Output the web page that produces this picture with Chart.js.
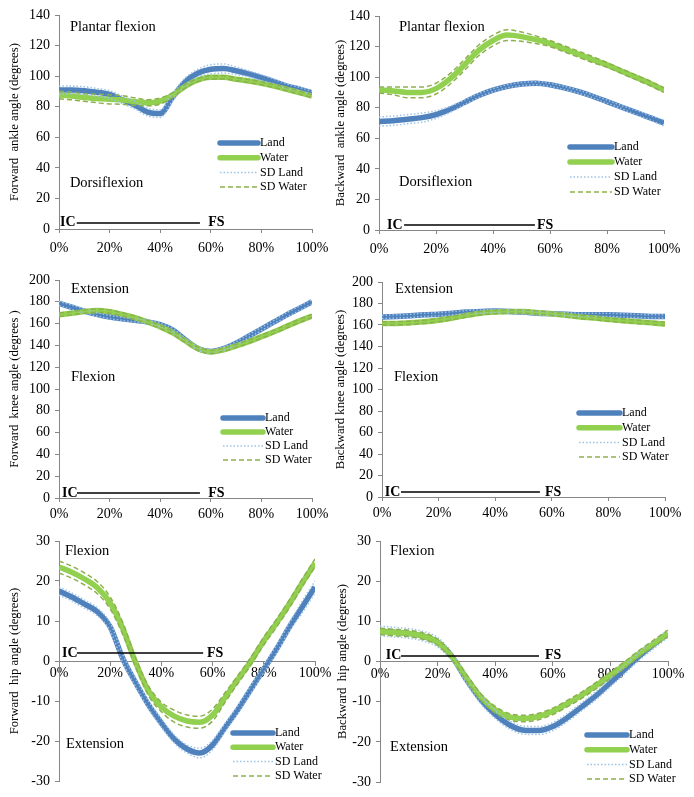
<!DOCTYPE html>
<html>
<head>
<meta charset="utf-8">
<script src="https://cdn.jsdelivr.net/npm/chart.js@4.4.0/dist/chart.umd.min.js"></script>
<style>
  body { margin: 0; background: #fff; width: 694px; height: 797px; position: relative; overflow: hidden; }
  canvas { position: absolute; }
</style>
</head>
<body>
<canvas id="fwdAnkle" width="340" height="262" style="left:0;top:0"></canvas>
<canvas id="bwdAnkle" width="364" height="262" style="left:330px;top:0"></canvas>
<canvas id="fwdKnee" width="340" height="263" style="left:0;top:262px"></canvas>
<canvas id="bwdKnee" width="364" height="263" style="left:330px;top:262px"></canvas>
<canvas id="fwdHip" width="340" height="272" style="left:0;top:525px"></canvas>
<canvas id="bwdHip" width="364" height="272" style="left:330px;top:525px"></canvas>
<script>
// % of stride
const pct = [0, 5, 10, 15, 20, 25, 30, 35, 40, 45, 50, 55, 60, 65, 70, 75, 80, 85, 90, 95, 100];

// Forward ankle
const landFA  = [91, 91, 90.5, 89.5, 88, 84.5, 81, 76.5, 75.5, 86.5, 96.5, 102, 104.5, 105, 103.5, 101.5, 99, 96.5, 93.5, 91.5, 89];
const sdLandFA = [2.5, 2.5, 2.5, 2.5, 2.5, 2.5, 2.5, 2.5, 2.5, 2.5, 2.5, 2.5, 3, 3, 2.5, 2, 2, 1.5, 1.5, 1.2, 1];
const waterFA = [87.7, 87, 86, 85.4, 84.8, 84.4, 83.3, 82.6, 83.7, 87.7, 93.5, 97.5, 99.2, 99.2, 98, 96.8, 95.3, 93.5, 91.4, 89.2, 87];
const sdWaterFA = [2.5, 2.5, 2.5, 2.8, 3, 2.8, 2.5, 2, 2, 1.5, 1.2, 1, 1, 1, 1, 1, 1, 1, 1, 1, 1];

// Backward ankle
const landBA  = [71, 71.5, 72.5, 73.5, 75.5, 79, 83.5, 88, 91.5, 94, 95.5, 96, 95, 93, 90.5, 87.5, 84, 80.5, 77, 73.5, 70];
const sdLandBA = [3, 3, 3, 3, 2.5, 2, 1.5, 1.2, 1, 1, 1, 1, 1, 1, 1, 1, 1, 1, 1.5, 1.5, 2];
const waterBA = [91.6, 91, 90, 90, 92.5, 99, 108, 117.5, 124, 127.5, 126.5, 124.5, 122, 118.5, 115, 111.5, 108, 104, 100, 96, 91.5];
const sdWaterBA = [2, 2.5, 3.5, 3.5, 3.5, 3.5, 3.5, 3.5, 3.5, 3.5, 3, 2.5, 2, 2, 2, 2, 1.5, 1.5, 1.5, 1.5, 1.5];

// Forward knee
const landFK  = [178.5, 175, 171.5, 168.5, 166, 164.5, 163, 161.5, 159, 154, 145, 137, 134.5, 137, 142, 148.5, 155, 161.5, 168, 174, 180];
const sdLandFK = [2, 2, 2, 1.5, 1.5, 1.5, 1.5, 1.5, 1.5, 1.5, 1.5, 1.5, 1.5, 1.5, 1.5, 1.5, 1.5, 1.5, 2, 2, 2];
const waterFK = [168, 169.5, 171, 172, 171, 168.5, 165.5, 161.5, 157, 151.5, 144, 137, 134, 136, 139.5, 143.5, 148, 152.5, 157.5, 162.5, 167];
const sdWaterFK = [1.5, 1.5, 1.5, 1.5, 1.5, 1.5, 1.5, 1.5, 1.5, 1.5, 1.5, 1.5, 1.5, 1.5, 1.5, 1.5, 1.5, 1.5, 1.5, 1.5, 1.5];

// Backward knee
const landBK  = [167.5, 168, 168.5, 169.5, 170, 171, 172, 172.5, 173, 172.5, 172, 171, 170.5, 170, 169.5, 169.5, 169.5, 169, 168.5, 168, 168];
const sdLandBK = [1.5, 1.5, 1.5, 1.5, 1.5, 1.5, 1.5, 1.5, 1.5, 1.5, 1.5, 1.5, 1.5, 1.5, 1.5, 1.5, 1.5, 1.5, 1.5, 1.5, 1.5];
const waterBK = [161.5, 161.5, 162, 163, 164.5, 166.5, 169, 171, 172, 172.5, 172.5, 171.5, 170.5, 169, 167.5, 166.5, 165, 164, 163, 162, 161];
const sdWaterBK = [1.5, 1.5, 1.5, 1.5, 1.5, 1.5, 1.5, 1.5, 1.5, 1.5, 1.5, 1.5, 1.5, 1.5, 1.5, 1.5, 1.5, 1.5, 1.5, 1.5, 1.5];

// Forward hip
const landFH  = [17.5, 16, 14.2, 12.3, 8.5, 0.5, -5.5, -11, -15.5, -19.5, -22, -23, -21, -16.5, -12, -7, -2, 3, 8.5, 13.5, 18.5];
const sdLandFH = [1, 1, 1, 1, 1, 1, 1, 1, 1, 1, 1, 1.2, 1.2, 1, 1, 1, 1, 1, 1, 1.5, 1.5];
const waterFH = [23.5, 22.2, 20.5, 18.3, 14.5, 8, -0.5, -7.5, -11.5, -13.8, -15, -15.3, -13.5, -9, -4.5, 0, 5, 9.5, 14.3, 19.5, 24.5];
const sdWaterFH = [1.5, 1.5, 1.5, 1.5, 1.5, 1.5, 1.2, 1.2, 1.2, 1.5, 1.5, 1.5, 1.5, 1.2, 1, 1, 1, 1, 1, 1, 1];

// Backward hip
const landBH  = [7.6, 7.3, 7, 6.3, 4.8, 1.2, -4.5, -9.5, -13.2, -15.8, -17.1, -17.2, -16.2, -14, -11.3, -8.5, -5.3, -2, 1.3, 4.2, 7];
const sdLandBH = [1.2, 1.2, 1.2, 1.2, 1.2, 1, 1, 1, 1, 1, 1, 1, 1, 1, 1, 1, 1, 1, 1, 1, 1];
const waterBH = [7.5, 7.2, 7, 6.3, 4.8, 1.2, -4, -8.8, -12, -13.8, -14.2, -13.7, -12.4, -10.5, -8.4, -6, -3.4, -0.8, 2, 4.5, 7];
const sdWaterBH = [0.8, 0.8, 0.8, 0.8, 0.8, 0.8, 0.8, 0.8, 0.8, 0.8, 0.8, 0.8, 0.8, 0.8, 0.8, 0.8, 0.8, 0.8, 0.8, 0.8, 0.8];

const LAND = '#4F81BD';
const WATER = '#92D050';
const SD_LAND = '#9DC3E6';
const SD_WATER = '#8DB04E';
const AXIS = '#868686';
const SERIF = "'Liberation Serif', 'Times New Roman', serif";

function pts(vals) {
    return vals.map((v, i) => ({ x: pct[i], y: v }));
}
function band(vals, sd, sign) {
    return vals.map((v, i) => ({ x: pct[i], y: v + sign * sd[i] }));
}

// Legend drawn inside the plot (only 4 entries for 6 datasets)
const innerLegend = {
    id: 'innerLegend',
    afterDraw(chart, args, opts) {
        const ctx = chart.ctx;
        const seen = {};
        const items = [];
        chart.data.datasets.forEach(ds => {
            if (!seen[ds.label]) { seen[ds.label] = true; items.push(ds); }
        });
        items.sort((a, b) => a.legendIndex - b.legendIndex);
        ctx.save();
        ctx.font = '12px ' + SERIF;
        ctx.textBaseline = 'middle';
        ctx.fillStyle = '#000';
        items.forEach((ds, i) => {
            const y = opts.y + i * opts.gap;
            ctx.beginPath();
            ctx.setLineDash(ds.borderDash || []);
            ctx.lineWidth = ds.borderWidth;
            ctx.strokeStyle = ds.borderColor;
            ctx.lineCap = ds.borderWidth > 3 ? 'round' : 'butt';
            ctx.moveTo(opts.x, y);
            ctx.lineTo(opts.x + opts.len, y);
            ctx.stroke();
            ctx.fillText(ds.label, opts.x + opts.len + 2, y);
        });
        ctx.restore();
    }
};

// Text notes and IC-FS bar, placed in data units
const notes = {
    id: 'notes',
    afterDraw(chart, args, opts) {
        const ctx = chart.ctx;
        const xs = chart.scales.x, ys = chart.scales.y;
        ctx.save();
        ctx.fillStyle = '#000';
        ctx.textBaseline = 'middle';
        ctx.textAlign = 'left';
        ctx.font = '14.5px ' + SERIF;
        opts.texts.forEach(t => {
            ctx.fillText(t.text, xs.getPixelForValue(t.x), ys.getPixelForValue(t.y));
        });
        const b = opts.bar;
        const by = ys.getPixelForValue(b.y);
        ctx.font = 'bold 14px ' + SERIF;
        ctx.fillText('IC', xs.getPixelForValue(b.ic), by);
        ctx.fillText('FS', xs.getPixelForValue(b.fs), by);
        ctx.beginPath();
        ctx.lineWidth = 1.5;
        ctx.strokeStyle = '#000';
        ctx.moveTo(xs.getPixelForValue(b.from), by);
        ctx.lineTo(xs.getPixelForValue(b.to), by);
        ctx.stroke();
        ctx.restore();
    }
};

function makePanel(id, cfg) {
    const datasets = [
        { label: 'SD Water', legendIndex: 3, data: band(cfg.water, cfg.sdWater, 1), borderColor: SD_WATER, borderWidth: 1.5, borderDash: [5, 3] },
        { label: 'SD Water', legendIndex: 3, data: band(cfg.water, cfg.sdWater, -1), borderColor: SD_WATER, borderWidth: 1.5, borderDash: [5, 3] },
        { label: 'SD Land', legendIndex: 2, data: band(cfg.land, cfg.sdLand, 1), borderColor: SD_LAND, borderWidth: 1.5, borderDash: [1.5, 2] },
        { label: 'SD Land', legendIndex: 2, data: band(cfg.land, cfg.sdLand, -1), borderColor: SD_LAND, borderWidth: 1.5, borderDash: [1.5, 2] },
        { label: 'Water', legendIndex: 1, data: pts(cfg.water), borderColor: WATER, borderWidth: 5.5 },
        { label: 'Land', legendIndex: 0, data: pts(cfg.land), borderColor: LAND, borderWidth: 5.5 }
    ];
    datasets.forEach(ds => {
        ds.pointRadius = 0;
        ds.fill = false;
        ds.cubicInterpolationMode = 'monotone';
    });

    new Chart(document.getElementById(id).getContext('2d'), {
        type: 'line',
        data: { datasets: datasets },
        options: {
            responsive: false,
            animation: false,
            layout: { padding: { left: 0, top: cfg.padTop, right: cfg.padRight, bottom: cfg.padBottom || 0 } },
            plugins: {
                legend: { display: false },
                tooltip: { enabled: false },
                innerLegend: cfg.legend,
                notes: cfg.notes
            },
            scales: {
                x: {
                    type: 'linear',
                    position: cfg.xAtZero ? { y: 0 } : 'bottom',
                    min: 0,
                    max: 100,
                    ticks: {
                        stepSize: 20,
                        color: '#000',
                        padding: cfg.xPad,
                        maxRotation: 0,
                        font: { family: SERIF, size: 14 },
                        callback: v => v + '%'
                    },
                    grid: { drawOnChartArea: false, color: AXIS, tickLength: 4 },
                    border: { color: AXIS, width: 1 },
                    afterFit: s => { if (cfg.xHeight) s.height = cfg.xHeight; }
                },
                y: {
                    min: cfg.yMin,
                    max: cfg.yMax,
                    ticks: {
                        stepSize: cfg.yStep,
                        color: '#000',
                        padding: 5,
                        font: { family: SERIF, size: 14 }
                    },
                    grid: { drawOnChartArea: false, color: AXIS, tickLength: 4 },
                    border: { color: AXIS, width: 1 },
                    title: {
                        display: true,
                        text: cfg.yTitle,
                        color: '#000',
                        padding: { top: cfg.titlePad, bottom: 0 },
                        font: { family: SERIF, size: 12.7 }
                    },
                    afterFit: s => { s.width = cfg.yWidth; }
                }
            }
        },
        plugins: [innerLegend, notes]
    });
}

makePanel('fwdAnkle', {
    land: landFA, sdLand: sdLandFA, water: waterFA, sdWater: sdWaterFA,
    yMin: 0, yMax: 140, yStep: 20, yTitle: 'Forward  ankle angle (degrees)',
    yWidth: 59, titlePad: 7, padTop: 15, padRight: 28, xHeight: 33, xPad: 7,
    legend: { x: 220, y: 143, gap: 14.7, len: 38 },
    notes: {
        texts: [{ text: 'Plantar flexion', x: 4.3, y: 132 }, { text: 'Dorsiflexion', x: 4.3, y: 30 }],
        bar: { y: 4, ic: 0.4, from: 7, to: 55.7, fs: 59 }
    }
});

makePanel('bwdAnkle', {
    land: landBA, sdLand: sdLandBA, water: waterBA, sdWater: sdWaterBA,
    yMin: 0, yMax: 140, yStep: 20, yTitle: 'Backward  ankle angle (degrees)',
    yWidth: 49, titlePad: 3, padTop: 16, padRight: 30, xHeight: 32, xPad: 7,
    legend: { x: 240, y: 147, gap: 15, len: 42 },
    notes: {
        texts: [{ text: 'Plantar flexion', x: 7, y: 133 }, { text: 'Dorsiflexion', x: 7, y: 31 }],
        bar: { y: 3.3, ic: 2.8, from: 8.8, to: 54.7, fs: 55.4 }
    }
});

makePanel('fwdKnee', {
    land: landFK, sdLand: sdLandFK, water: waterFK, sdWater: sdWaterFK,
    yMin: 0, yMax: 200, yStep: 20, yTitle: 'Forward  knee angle (degrees )',
    yWidth: 59, titlePad: 7, padTop: 18, padRight: 28, xHeight: 27, xPad: 4,
    legend: { x: 223, y: 156, gap: 14, len: 40 },
    notes: {
        texts: [{ text: 'Extension', x: 4.7, y: 192 }, { text: 'Flexion', x: 4.7, y: 111 }],
        bar: { y: 4.6, ic: 1.2, from: 7.1, to: 55.7, fs: 59 }
    }
});

makePanel('bwdKnee', {
    land: landBK, sdLand: sdLandBK, water: waterBK, sdWater: sdWaterBK,
    yMin: 0, yMax: 200, yStep: 20, yTitle: 'Backward knee angle (degrees)',
    yWidth: 52, titlePad: 3, padTop: 20, padRight: 29, xHeight: 28, xPad: 4,
    legend: { x: 249, y: 151, gap: 14.7, len: 41 },
    notes: {
        texts: [{ text: 'Extension', x: 4.6, y: 193 }, { text: 'Flexion', x: 4.2, y: 111.6 }],
        bar: { y: 4.6, ic: 1, from: 6.7, to: 55.8, fs: 57.6 }
    }
});

makePanel('fwdHip', {
    land: landFH, sdLand: sdLandFH, water: waterFH, sdWater: sdWaterFH,
    yMin: -30, yMax: 30, yStep: 10, yTitle: 'Forward  hip angle (degrees)',
    yWidth: 59, titlePad: 7, padTop: 16, padRight: 25, padBottom: 16, xAtZero: true, xPad: 0,
    legend: { x: 233, y: 208, gap: 14.3, len: 40 },
    notes: {
        texts: [{ text: 'Flexion', x: 2.3, y: 27.5 }, { text: 'Extension', x: 2.7, y: -20.75 }],
        bar: { y: 2, ic: 1.2, from: 7, to: 56.3, fs: 57.8 }
    }
});

makePanel('bwdHip', {
    land: landBH, sdLand: sdLandBH, water: waterBH, sdWater: sdWaterBH,
    yMin: -30, yMax: 30, yStep: 10, yTitle: 'Backward  hip angle (degrees)',
    yWidth: 50, titlePad: 5, padTop: 16, padRight: 26, padBottom: 15, xAtZero: true, xPad: 0,
    legend: { x: 257, y: 210, gap: 14.7, len: 40 },
    notes: {
        texts: [{ text: 'Flexion', x: 3.5, y: 27.5 }, { text: 'Extension', x: 3.5, y: -21.3 }],
        bar: { y: 1.4, ic: 2, from: 7.3, to: 55.2, fs: 57.3 }
    }
});
</script>
</body>
</html>
